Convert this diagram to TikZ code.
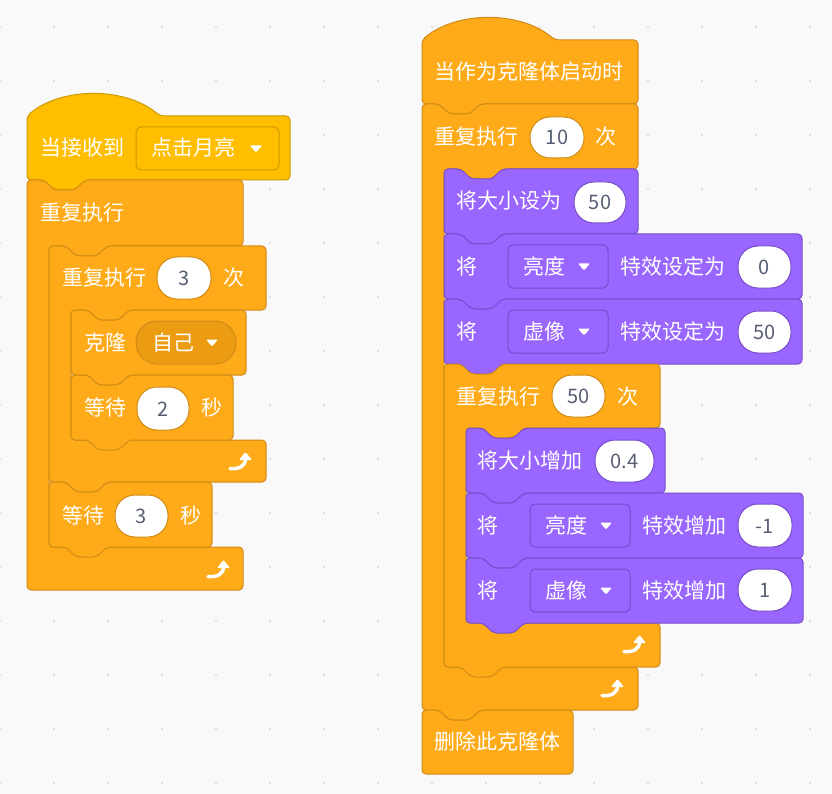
\documentclass[tikz,border=0pt]{standalone}
\usepackage{fontspec}
\setmainfont{Noto Sans CJK SC}
\definecolor{bgc}{HTML}{F9F9F9}
\definecolor{dotc}{HTML}{D5D5D5}
\definecolor{evtf}{HTML}{FFBF00}
\definecolor{evtd}{HTML}{CC9900}
\definecolor{ctlf}{HTML}{FFAB19}
\definecolor{ctld}{HTML}{CF8B17}
\definecolor{ctls}{HTML}{EC9C13}
\definecolor{lkf}{HTML}{9966FF}
\definecolor{lkd}{HTML}{774DCB}
\definecolor{numc}{HTML}{575E75}
\tikzset{
 blk/.style={line width=1pt, rounded corners=4pt, line join=round},
 lbltxt/.style={anchor=base west, inner sep=0pt, text=white, font=\fontsize{21}{21}\selectfont},
 numtxt/.style={anchor=base, inner sep=0pt, text=numc, font=\fontsize{20}{20}\selectfont},
}
% stack block: x y w h fill draw
\newcommand\sbStack[6]{\draw[blk,fill=#5,draw=#6] (#1,#2+20) -- (#1,#2) -- (#1+17,#2) -- ++(10,10) -- ++(21,0) -- ++(10,-10) -- (#1+#3,#2) -- (#1+#3,#2+#4) -- (#1+58,#2+#4) -- ++(-10,10) -- ++(-21,0) -- ++(-10,-10) -- (#1,#2+#4) -- cycle;}
\newcommand\sbCap[6]{\draw[blk,fill=#5,draw=#6] (#1,#2+20) -- (#1,#2) -- (#1+17,#2) -- ++(10,10) -- ++(21,0) -- ++(10,-10) -- (#1+#3,#2) -- (#1+#3,#2+#4) -- (#1,#2+#4) -- cycle;}
\newcommand\sbHat[6]{\draw[blk,fill=#5,draw=#6] (#1,#2+20) -- (#1,#2) .. controls (#1+34.6,#2-29.3) and (#1+98.4,#2-29.3) .. (#1+133,#2) -- (#1+#3,#2) -- (#1+#3,#2+#4) -- (#1+58,#2+#4) -- ++(-10,10) -- ++(-21,0) -- ++(-10,-10) -- (#1,#2+#4) -- cycle;}
% C block: x y w htop mouth hbottom fill draw
\newcommand\sbC[8]{\draw[blk,fill=#7,draw=#8] (#1,#2+20) -- (#1,#2) -- (#1+17,#2) -- ++(10,10) -- ++(21,0) -- ++(10,-10) -- (#1+#3,#2) -- (#1+#3,#2+#4) -- (#1+80,#2+#4) -- ++(-10,10) -- ++(-21,0) -- ++(-10,-10) -- (#1+22,#2+#4) -- (#1+22,#2+#4+#5) -- (#1+#3,#2+#4+#5) -- (#1+#3,#2+#4+#5+#6) -- (#1+58,#2+#4+#5+#6) -- ++(-10,10) -- ++(-21,0) -- ++(-10,-10) -- (#1,#2+#4+#5+#6) -- cycle;}
\newcommand\sbForever[8]{\draw[blk,fill=#7,draw=#8] (#1,#2+20) -- (#1,#2) -- (#1+17,#2) -- ++(10,10) -- ++(21,0) -- ++(10,-10) -- (#1+#3,#2) -- (#1+#3,#2+#4) -- (#1+80,#2+#4) -- ++(-10,10) -- ++(-21,0) -- ++(-10,-10) -- (#1+22,#2+#4) -- (#1+22,#2+#4+#5) -- (#1+#3,#2+#4+#5) -- (#1+#3,#2+#4+#5+#6) -- (#1,#2+#4+#5+#6) -- cycle;}
\newcommand\sbBox[7]{\draw[fill=#5,draw=#6,line width=1pt,rounded corners=#7pt] (#1,#2) rectangle (#3,#4);}
\newcommand\sbNum[7]{\draw[fill=white,draw=#5,line width=1pt,rounded corners=20pt] (#1,#2) rectangle (#3,#4); \node[numtxt] (#7) at ({(#1+#3)/2},{(#2+#4)/2+7.5}) {#6};}
\newcommand\sbLbl[4]{\node[lbltxt] (#1) at (#2,{#3+7.5}) {#4};}
\newcommand\sbTri[2]{\fill[white,rounded corners=1.2pt] (#1-6,#2-3) -- (#1+6,#2-3) -- (#1,#2+4) -- cycle;}
\newcommand\sbLoop[2]{\draw[white,line width=3.5pt,line cap=round] (#1-11,#2+6.5) .. controls (#1-2,#2+7.5) and (#1+4.5,#2+4) .. (#1+4.5,#2-3); \fill[white,rounded corners=1pt] (#1-2,#2-2) -- (#1+11,#2-2) -- (#1+4.5,#2-10) -- cycle;}
\begin{document}
\begin{tikzpicture}[x=1pt,y=-1pt]
\fill[bgc] (0,0) rectangle (832,794);
\useasboundingbox (0,0) rectangle (832,794);
\foreach \i in {0,...,15} {\foreach \j in {0,...,14} {\fill[dotc] (54*\i,27+54*\j) circle (1.2pt);}}
% ---------- left script ----------
\sbHat{27}{116}{263}{64}{evtf}{evtd}
\sbLbl{a1}{40}{148.5}{当接收到}
\sbBox{136}{127}{279}{170}{evtf}{evtd}{5}
\sbLbl{a2}{151}{148.5}{点击月亮}
\sbTri{256}{148.5}
\sbForever{27}{180}{216}{66}{301}{43}{ctlf}{ctld}
\sbLbl{b1}{40}{213}{重复执行}
\sbLoop{219}{570}
\sbC{49}{246}{217}{64}{130}{42}{ctlf}{ctld}
\sbLbl{c1}{62}{278}{重复执行}
\sbNum{157}{257}{211}{299}{ctld}{3}{c2}
\sbLbl{c3}{223}{278}{次}
\sbLoop{241}{462}
\sbStack{71}{310}{175}{65}{ctlf}{ctld}
\sbLbl{d1}{84}{342.5}{克隆}
\sbBox{136}{321}{236}{364}{ctls}{ctld}{21}
\sbLbl{d2}{152}{342.5}{自己}
\sbTri{212}{342.5}
\sbStack{71}{375}{162}{65}{ctlf}{ctld}
\sbLbl{e1}{84}{408}{等待}
\sbNum{137}{387}{189}{430}{ctld}{2}{e2}
\sbLbl{e3}{201}{408}{秒}
\sbStack{49}{482}{163}{65}{ctlf}{ctld}
\sbLbl{f1}{62}{516}{等待}
\sbNum{115}{495}{168}{537}{ctld}{3}{f2}
\sbLbl{f3}{180}{516}{秒}
% ---------- right script ----------
\sbHat{422}{40}{216}{64}{ctlf}{ctld}
\sbLbl{g1}{434}{72.5}{当作为克隆体启动时}
\sbC{422}{104}{216}{65}{498}{43}{ctlf}{ctld}
\sbLbl{h1}{434}{137}{重复执行}
\sbNum{530}{117}{584}{158}{ctld}{10}{h2}
\sbLbl{h3}{595}{137}{次}
\sbLoop{613}{689}
\sbStack{444}{169}{194}{65}{lkf}{lkd}
\sbLbl{i1}{456}{201.5}{将大小设为}
\sbNum{574}{182}{626}{223}{lkd}{50}{i2}
\sbStack{444}{234}{358}{65}{lkf}{lkd}
\sbLbl{j1}{456}{266.5}{将}
\sbBox{508}{245}{608}{288}{lkf}{lkd}{5}
\sbLbl{j2}{523}{266.5}{亮度}
\sbTri{584}{266.5}
\sbLbl{j3}{620}{266.5}{特效设定为}
\sbNum{738}{246}{791}{288}{lkd}{0}{j4}
\sbStack{444}{299}{358}{65}{lkf}{lkd}
\sbLbl{k1}{456}{331.5}{将}
\sbBox{508}{310}{608}{353}{lkf}{lkd}{5}
\sbLbl{k2}{523}{331.5}{虚像}
\sbTri{584}{331.5}
\sbLbl{k3}{620}{331.5}{特效设定为}
\sbNum{738}{311}{791}{353}{lkd}{50}{k4}
\sbC{444}{364}{216}{64}{195}{44}{ctlf}{ctld}
\sbLbl{l1}{456}{396.5}{重复执行}
\sbNum{552}{375}{605}{417}{ctld}{50}{l2}
\sbLbl{l3}{617}{396.5}{次}
\sbLoop{635}{645}
\sbStack{466}{428}{199}{65}{lkf}{lkd}
\sbLbl{m1}{477}{461}{将大小增加}
\sbNum{595}{440}{654}{482}{lkd}{0.4}{m2}
\sbStack{466}{493}{337}{65}{lkf}{lkd}
\sbLbl{n1}{477}{525.5}{将}
\sbBox{530}{504}{630}{547}{lkf}{lkd}{5}
\sbLbl{n2}{545}{525.5}{亮度}
\sbTri{606}{525.5}
\sbLbl{n3}{642}{525.5}{特效增加}
\sbNum{738}{504}{792}{547}{lkd}{-1}{n4}
\sbStack{466}{558}{337}{65}{lkf}{lkd}
\sbLbl{o1}{477}{590.5}{将}
\sbBox{530}{569}{630}{612}{lkf}{lkd}{5}
\sbLbl{o2}{545}{590.5}{虚像}
\sbTri{606}{590.5}
\sbLbl{o3}{642}{590.5}{特效增加}
\sbNum{738}{569}{792}{611}{lkd}{1}{o4}
\sbCap{422}{710}{151}{64}{ctlf}{ctld}
\sbLbl{p1}{434}{742}{删除此克隆体}
\end{tikzpicture}
\end{document}
